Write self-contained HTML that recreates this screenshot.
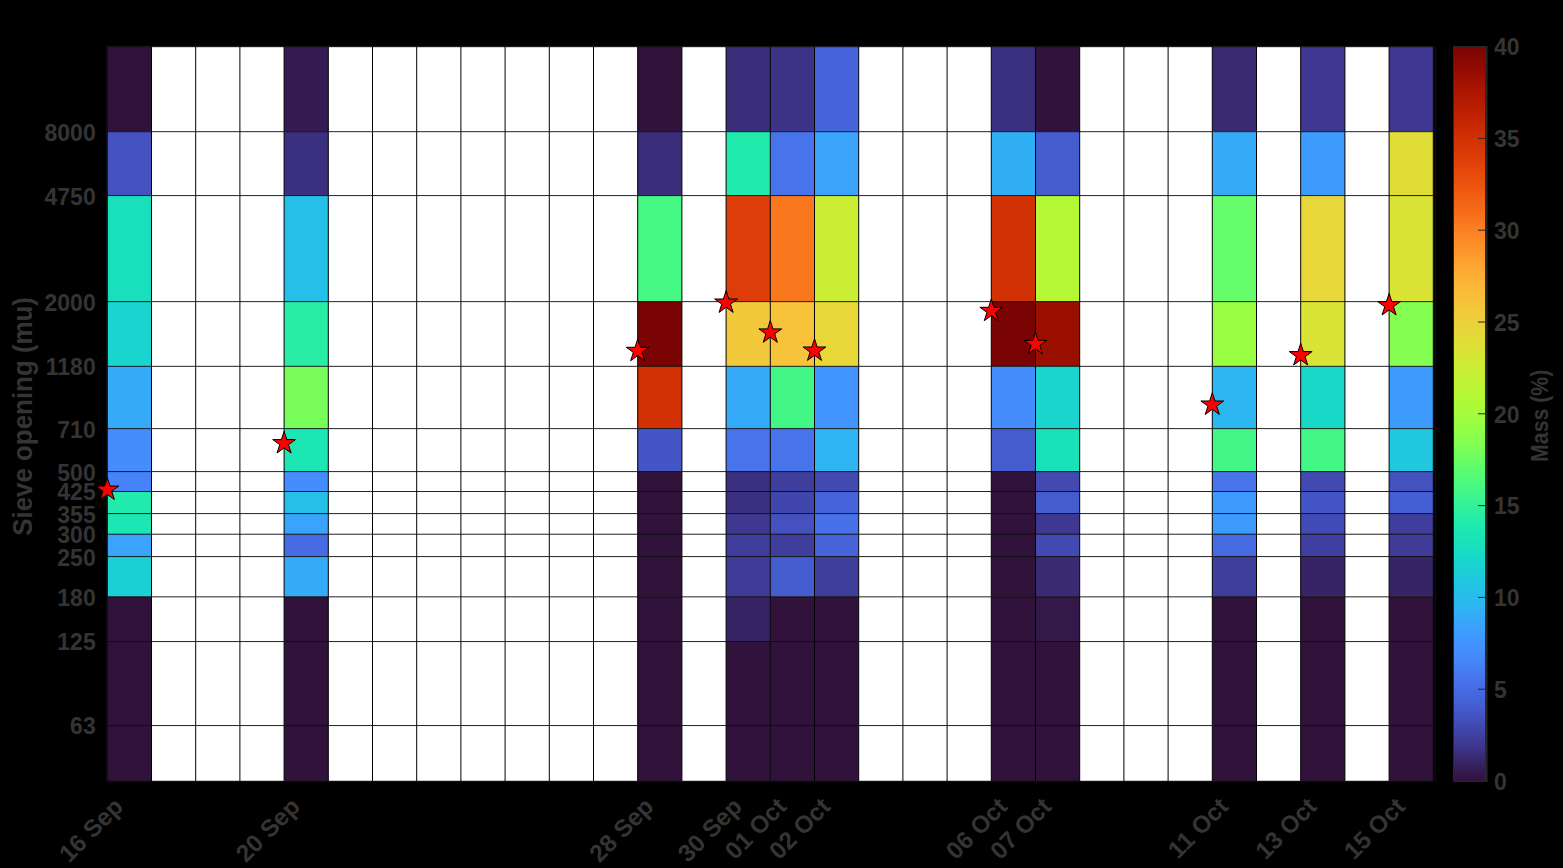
<!DOCTYPE html><html><head><meta charset="utf-8"><style>html,body{margin:0;padding:0;background:#000;width:1563px;height:868px;overflow:hidden}svg{display:block}text{font-family:"Liberation Sans", sans-serif;font-weight:bold}</style></head><body>
<svg width="1563" height="868" viewBox="0 0 1563 868">
<rect x="0" y="0" width="1563" height="868" fill="#000"/>
<line x1="106.5" y1="46" x2="106.5" y2="782" stroke="#101010" stroke-width="1"/>
<line x1="1435.5" y1="46" x2="1435.5" y2="782" stroke="#101010" stroke-width="1"/>
<rect x="107.30" y="46.62" width="1326.00" height="734.55" fill="#fff"/>
<rect x="107.30" y="46.62" width="44.20" height="84.98" fill="#30123b"/>
<rect x="107.30" y="131.60" width="44.20" height="63.91" fill="#4451bf"/>
<rect x="107.30" y="195.51" width="44.20" height="106.05" fill="#18e0bd"/>
<rect x="107.30" y="301.56" width="44.20" height="64.69" fill="#1ad4d0"/>
<rect x="107.30" y="366.25" width="44.20" height="62.28" fill="#35abf8"/>
<rect x="107.30" y="428.53" width="44.20" height="42.99" fill="#458cfd"/>
<rect x="107.30" y="471.52" width="44.20" height="19.92" fill="#4682f8"/>
<rect x="107.30" y="491.44" width="44.20" height="22.06" fill="#20eaac"/>
<rect x="107.30" y="513.51" width="44.20" height="20.64" fill="#1ce6b4"/>
<rect x="107.30" y="534.15" width="44.20" height="22.35" fill="#3aa3fc"/>
<rect x="107.30" y="556.50" width="44.20" height="40.27" fill="#1bd0d5"/>
<rect x="107.30" y="596.77" width="44.20" height="44.71" fill="#30123b"/>
<rect x="107.30" y="641.48" width="44.20" height="84.00" fill="#30123b"/>
<rect x="107.30" y="725.48" width="44.20" height="55.69" fill="#30123b"/>
<rect x="284.10" y="46.62" width="44.20" height="84.98" fill="#341b51"/>
<rect x="284.10" y="131.60" width="44.20" height="63.91" fill="#3b2f80"/>
<rect x="284.10" y="195.51" width="44.20" height="106.05" fill="#25c0e7"/>
<rect x="284.10" y="301.56" width="44.20" height="64.69" fill="#27eea4"/>
<rect x="284.10" y="366.25" width="44.20" height="62.28" fill="#79fe59"/>
<rect x="284.10" y="428.53" width="44.20" height="42.99" fill="#1ce6b4"/>
<rect x="284.10" y="471.52" width="44.20" height="19.92" fill="#458cfd"/>
<rect x="284.10" y="491.44" width="44.20" height="22.06" fill="#25c0e7"/>
<rect x="284.10" y="513.51" width="44.20" height="20.64" fill="#3aa3fc"/>
<rect x="284.10" y="534.15" width="44.20" height="22.35" fill="#466be3"/>
<rect x="284.10" y="556.50" width="44.20" height="40.27" fill="#35abf8"/>
<rect x="284.10" y="596.77" width="44.20" height="44.71" fill="#30123b"/>
<rect x="284.10" y="641.48" width="44.20" height="84.00" fill="#30123b"/>
<rect x="284.10" y="725.48" width="44.20" height="55.69" fill="#30123b"/>
<rect x="637.70" y="46.62" width="44.20" height="84.98" fill="#30123b"/>
<rect x="637.70" y="131.60" width="44.20" height="63.91" fill="#3a2d79"/>
<rect x="637.70" y="195.51" width="44.20" height="106.05" fill="#46f884"/>
<rect x="637.70" y="301.56" width="44.20" height="64.69" fill="#7a0403"/>
<rect x="637.70" y="366.25" width="44.20" height="62.28" fill="#d23105"/>
<rect x="637.70" y="428.53" width="44.20" height="42.99" fill="#4456c7"/>
<rect x="637.70" y="471.52" width="44.20" height="19.92" fill="#30123b"/>
<rect x="637.70" y="491.44" width="44.20" height="22.06" fill="#30123b"/>
<rect x="637.70" y="513.51" width="44.20" height="20.64" fill="#30123b"/>
<rect x="637.70" y="534.15" width="44.20" height="22.35" fill="#30123b"/>
<rect x="637.70" y="556.50" width="44.20" height="40.27" fill="#30123b"/>
<rect x="637.70" y="596.77" width="44.20" height="44.71" fill="#30123b"/>
<rect x="637.70" y="641.48" width="44.20" height="84.00" fill="#30123b"/>
<rect x="637.70" y="725.48" width="44.20" height="55.69" fill="#30123b"/>
<rect x="726.10" y="46.62" width="44.20" height="84.98" fill="#3a2d79"/>
<rect x="726.10" y="131.60" width="44.20" height="63.91" fill="#20eaac"/>
<rect x="726.10" y="195.51" width="44.20" height="106.05" fill="#dd3d08"/>
<rect x="726.10" y="301.56" width="44.20" height="64.69" fill="#f2c93a"/>
<rect x="726.10" y="366.25" width="44.20" height="62.28" fill="#35abf8"/>
<rect x="726.10" y="428.53" width="44.20" height="42.99" fill="#4773eb"/>
<rect x="726.10" y="471.52" width="44.20" height="19.92" fill="#3b2f80"/>
<rect x="726.10" y="491.44" width="44.20" height="22.06" fill="#3b2f80"/>
<rect x="726.10" y="513.51" width="44.20" height="20.64" fill="#3e3891"/>
<rect x="726.10" y="534.15" width="44.20" height="22.35" fill="#3f3e9c"/>
<rect x="726.10" y="556.50" width="44.20" height="40.27" fill="#3f3b97"/>
<rect x="726.10" y="596.77" width="44.20" height="44.71" fill="#372466"/>
<rect x="726.10" y="641.48" width="44.20" height="84.00" fill="#30123b"/>
<rect x="726.10" y="725.48" width="44.20" height="55.69" fill="#30123b"/>
<rect x="770.30" y="46.62" width="44.20" height="84.98" fill="#3c3286"/>
<rect x="770.30" y="131.60" width="44.20" height="63.91" fill="#4773eb"/>
<rect x="770.30" y="195.51" width="44.20" height="106.05" fill="#f9781e"/>
<rect x="770.30" y="301.56" width="44.20" height="64.69" fill="#f6c33a"/>
<rect x="770.30" y="366.25" width="44.20" height="62.28" fill="#43f787"/>
<rect x="770.30" y="428.53" width="44.20" height="42.99" fill="#4773eb"/>
<rect x="770.30" y="471.52" width="44.20" height="19.92" fill="#3f3e9c"/>
<rect x="770.30" y="491.44" width="44.20" height="22.06" fill="#4146ac"/>
<rect x="770.30" y="513.51" width="44.20" height="20.64" fill="#4451bf"/>
<rect x="770.30" y="534.15" width="44.20" height="22.35" fill="#3f3e9c"/>
<rect x="770.30" y="556.50" width="44.20" height="40.27" fill="#455ccf"/>
<rect x="770.30" y="596.77" width="44.20" height="44.71" fill="#30123b"/>
<rect x="770.30" y="641.48" width="44.20" height="84.00" fill="#30123b"/>
<rect x="770.30" y="725.48" width="44.20" height="55.69" fill="#30123b"/>
<rect x="814.50" y="46.62" width="44.20" height="84.98" fill="#4664da"/>
<rect x="814.50" y="131.60" width="44.20" height="63.91" fill="#3aa3fc"/>
<rect x="814.50" y="195.51" width="44.20" height="106.05" fill="#cbed34"/>
<rect x="814.50" y="301.56" width="44.20" height="64.69" fill="#e7d739"/>
<rect x="814.50" y="366.25" width="44.20" height="62.28" fill="#4294ff"/>
<rect x="814.50" y="428.53" width="44.20" height="42.99" fill="#2eb4f2"/>
<rect x="814.50" y="471.52" width="44.20" height="19.92" fill="#4249b1"/>
<rect x="814.50" y="491.44" width="44.20" height="22.06" fill="#4664da"/>
<rect x="814.50" y="513.51" width="44.20" height="20.64" fill="#4771e9"/>
<rect x="814.50" y="534.15" width="44.20" height="22.35" fill="#4664da"/>
<rect x="814.50" y="556.50" width="44.20" height="40.27" fill="#3f3e9c"/>
<rect x="814.50" y="596.77" width="44.20" height="44.71" fill="#30123b"/>
<rect x="814.50" y="641.48" width="44.20" height="84.00" fill="#30123b"/>
<rect x="814.50" y="725.48" width="44.20" height="55.69" fill="#30123b"/>
<rect x="991.30" y="46.62" width="44.20" height="84.98" fill="#3b2f80"/>
<rect x="991.30" y="131.60" width="44.20" height="63.91" fill="#31aff5"/>
<rect x="991.30" y="195.51" width="44.20" height="106.05" fill="#d23105"/>
<rect x="991.30" y="301.56" width="44.20" height="64.69" fill="#7a0403"/>
<rect x="991.30" y="366.25" width="44.20" height="62.28" fill="#458cfd"/>
<rect x="991.30" y="428.53" width="44.20" height="42.99" fill="#455ccf"/>
<rect x="991.30" y="471.52" width="44.20" height="19.92" fill="#30123b"/>
<rect x="991.30" y="491.44" width="44.20" height="22.06" fill="#30123b"/>
<rect x="991.30" y="513.51" width="44.20" height="20.64" fill="#30123b"/>
<rect x="991.30" y="534.15" width="44.20" height="22.35" fill="#30123b"/>
<rect x="991.30" y="556.50" width="44.20" height="40.27" fill="#30123b"/>
<rect x="991.30" y="596.77" width="44.20" height="44.71" fill="#30123b"/>
<rect x="991.30" y="641.48" width="44.20" height="84.00" fill="#30123b"/>
<rect x="991.30" y="725.48" width="44.20" height="55.69" fill="#30123b"/>
<rect x="1035.50" y="46.62" width="44.20" height="84.98" fill="#30123b"/>
<rect x="1035.50" y="131.60" width="44.20" height="63.91" fill="#455ccf"/>
<rect x="1035.50" y="195.51" width="44.20" height="106.05" fill="#b4f836"/>
<rect x="1035.50" y="301.56" width="44.20" height="64.69" fill="#9b0f01"/>
<rect x="1035.50" y="366.25" width="44.20" height="62.28" fill="#19d5cd"/>
<rect x="1035.50" y="428.53" width="44.20" height="42.99" fill="#19e2bb"/>
<rect x="1035.50" y="471.52" width="44.20" height="19.92" fill="#4249b1"/>
<rect x="1035.50" y="491.44" width="44.20" height="22.06" fill="#455ccf"/>
<rect x="1035.50" y="513.51" width="44.20" height="20.64" fill="#3e3891"/>
<rect x="1035.50" y="534.15" width="44.20" height="22.35" fill="#4249b1"/>
<rect x="1035.50" y="556.50" width="44.20" height="40.27" fill="#392a73"/>
<rect x="1035.50" y="596.77" width="44.20" height="44.71" fill="#33184a"/>
<rect x="1035.50" y="641.48" width="44.20" height="84.00" fill="#30123b"/>
<rect x="1035.50" y="725.48" width="44.20" height="55.69" fill="#30123b"/>
<rect x="1212.30" y="46.62" width="44.20" height="84.98" fill="#392a73"/>
<rect x="1212.30" y="131.60" width="44.20" height="63.91" fill="#35abf8"/>
<rect x="1212.30" y="195.51" width="44.20" height="106.05" fill="#65fd69"/>
<rect x="1212.30" y="301.56" width="44.20" height="64.69" fill="#99fe42"/>
<rect x="1212.30" y="366.25" width="44.20" height="62.28" fill="#2cb7f0"/>
<rect x="1212.30" y="428.53" width="44.20" height="42.99" fill="#43f787"/>
<rect x="1212.30" y="471.52" width="44.20" height="19.92" fill="#4773eb"/>
<rect x="1212.30" y="491.44" width="44.20" height="22.06" fill="#3e9bfe"/>
<rect x="1212.30" y="513.51" width="44.20" height="20.64" fill="#3e9bfe"/>
<rect x="1212.30" y="534.15" width="44.20" height="22.35" fill="#466be3"/>
<rect x="1212.30" y="556.50" width="44.20" height="40.27" fill="#3f3e9c"/>
<rect x="1212.30" y="596.77" width="44.20" height="44.71" fill="#30123b"/>
<rect x="1212.30" y="641.48" width="44.20" height="84.00" fill="#30123b"/>
<rect x="1212.30" y="725.48" width="44.20" height="55.69" fill="#30123b"/>
<rect x="1300.70" y="46.62" width="44.20" height="84.98" fill="#3e3891"/>
<rect x="1300.70" y="131.60" width="44.20" height="63.91" fill="#3e9bfe"/>
<rect x="1300.70" y="195.51" width="44.20" height="106.05" fill="#e7d739"/>
<rect x="1300.70" y="301.56" width="44.20" height="64.69" fill="#d9e436"/>
<rect x="1300.70" y="366.25" width="44.20" height="62.28" fill="#18d9c8"/>
<rect x="1300.70" y="428.53" width="44.20" height="42.99" fill="#43f787"/>
<rect x="1300.70" y="471.52" width="44.20" height="19.92" fill="#4249b1"/>
<rect x="1300.70" y="491.44" width="44.20" height="22.06" fill="#4456c7"/>
<rect x="1300.70" y="513.51" width="44.20" height="20.64" fill="#424bb5"/>
<rect x="1300.70" y="534.15" width="44.20" height="22.35" fill="#4040a2"/>
<rect x="1300.70" y="556.50" width="44.20" height="40.27" fill="#372466"/>
<rect x="1300.70" y="596.77" width="44.20" height="44.71" fill="#30123b"/>
<rect x="1300.70" y="641.48" width="44.20" height="84.00" fill="#30123b"/>
<rect x="1300.70" y="725.48" width="44.20" height="55.69" fill="#30123b"/>
<rect x="1389.10" y="46.62" width="44.20" height="84.98" fill="#3e3891"/>
<rect x="1389.10" y="131.60" width="44.20" height="63.91" fill="#e1dd37"/>
<rect x="1389.10" y="195.51" width="44.20" height="106.05" fill="#d9e436"/>
<rect x="1389.10" y="301.56" width="44.20" height="64.69" fill="#84ff51"/>
<rect x="1389.10" y="366.25" width="44.20" height="62.28" fill="#3e9bfe"/>
<rect x="1389.10" y="428.53" width="44.20" height="42.99" fill="#20c7df"/>
<rect x="1389.10" y="471.52" width="44.20" height="19.92" fill="#4451bf"/>
<rect x="1389.10" y="491.44" width="44.20" height="22.06" fill="#455ed3"/>
<rect x="1389.10" y="513.51" width="44.20" height="20.64" fill="#3f3e9c"/>
<rect x="1389.10" y="534.15" width="44.20" height="22.35" fill="#3f3b97"/>
<rect x="1389.10" y="556.50" width="44.20" height="40.27" fill="#372466"/>
<rect x="1389.10" y="596.77" width="44.20" height="44.71" fill="#30123b"/>
<rect x="1389.10" y="641.48" width="44.20" height="84.00" fill="#30123b"/>
<rect x="1389.10" y="725.48" width="44.20" height="55.69" fill="#30123b"/>
<path d="M107.30 46.62V781.17 M151.50 46.62V781.17 M195.70 46.62V781.17 M239.90 46.62V781.17 M284.10 46.62V781.17 M328.30 46.62V781.17 M372.50 46.62V781.17 M416.70 46.62V781.17 M460.90 46.62V781.17 M505.10 46.62V781.17 M549.30 46.62V781.17 M593.50 46.62V781.17 M637.70 46.62V781.17 M681.90 46.62V781.17 M726.10 46.62V781.17 M770.30 46.62V781.17 M814.50 46.62V781.17 M858.70 46.62V781.17 M902.90 46.62V781.17 M947.10 46.62V781.17 M991.30 46.62V781.17 M1035.50 46.62V781.17 M1079.70 46.62V781.17 M1123.90 46.62V781.17 M1168.10 46.62V781.17 M1212.30 46.62V781.17 M1256.50 46.62V781.17 M1300.70 46.62V781.17 M1344.90 46.62V781.17 M1389.10 46.62V781.17 M1433.30 46.62V781.17" stroke="#000" stroke-width="1" fill="none"/>
<path d="M107.30 46.70H1433.30 M107.30 131.68H1433.30 M107.30 195.59H1433.30 M107.30 301.64H1433.30 M107.30 366.33H1433.30 M107.30 428.61H1433.30 M107.30 471.60H1433.30 M107.30 491.52H1433.30 M107.30 513.59H1433.30 M107.30 534.23H1433.30 M107.30 556.58H1433.30 M107.30 596.85H1433.30 M107.30 641.56H1433.30 M107.30 725.56H1433.30 M107.30 781.25H1433.30" stroke="#000" stroke-width="0.87" fill="none"/>
<path d="M107.30,477.80 L109.99,486.09 L118.71,486.09 L111.66,491.22 L114.35,499.51 L107.30,494.38 L100.25,499.51 L102.94,491.22 L95.89,486.09 L104.61,486.09 Z" fill="#ff0000" stroke="#000" stroke-width="1" stroke-linejoin="miter"/>
<path d="M284.10,431.30 L286.79,439.59 L295.51,439.59 L288.46,444.72 L291.15,453.01 L284.10,447.88 L277.05,453.01 L279.74,444.72 L272.69,439.59 L281.41,439.59 Z" fill="#ff0000" stroke="#000" stroke-width="1" stroke-linejoin="miter"/>
<path d="M637.70,339.00 L640.39,347.29 L649.11,347.29 L642.06,352.42 L644.75,360.71 L637.70,355.58 L630.65,360.71 L633.34,352.42 L626.29,347.29 L635.01,347.29 Z" fill="#ff0000" stroke="#000" stroke-width="1" stroke-linejoin="miter"/>
<path d="M726.10,290.70 L728.79,298.99 L737.51,298.99 L730.46,304.12 L733.15,312.41 L726.10,307.28 L719.05,312.41 L721.74,304.12 L714.69,298.99 L723.41,298.99 Z" fill="#ff0000" stroke="#000" stroke-width="1" stroke-linejoin="miter"/>
<path d="M770.30,320.60 L772.99,328.89 L781.71,328.89 L774.66,334.02 L777.35,342.31 L770.30,337.18 L763.25,342.31 L765.94,334.02 L758.89,328.89 L767.61,328.89 Z" fill="#ff0000" stroke="#000" stroke-width="1" stroke-linejoin="miter"/>
<path d="M814.50,338.70 L817.19,346.99 L825.91,346.99 L818.86,352.12 L821.55,360.41 L814.50,355.28 L807.45,360.41 L810.14,352.12 L803.09,346.99 L811.81,346.99 Z" fill="#ff0000" stroke="#000" stroke-width="1" stroke-linejoin="miter"/>
<path d="M991.30,299.00 L993.99,307.29 L1002.71,307.29 L995.66,312.42 L998.35,320.71 L991.30,315.58 L984.25,320.71 L986.94,312.42 L979.89,307.29 L988.61,307.29 Z" fill="#ff0000" stroke="#000" stroke-width="1" stroke-linejoin="miter"/>
<path d="M1035.50,332.00 L1038.19,340.29 L1046.91,340.29 L1039.86,345.42 L1042.55,353.71 L1035.50,348.58 L1028.45,353.71 L1031.14,345.42 L1024.09,340.29 L1032.81,340.29 Z" fill="#ff0000" stroke="#000" stroke-width="1" stroke-linejoin="miter"/>
<path d="M1212.30,392.70 L1214.99,400.99 L1223.71,400.99 L1216.66,406.12 L1219.35,414.41 L1212.30,409.28 L1205.25,414.41 L1207.94,406.12 L1200.89,400.99 L1209.61,400.99 Z" fill="#ff0000" stroke="#000" stroke-width="1" stroke-linejoin="miter"/>
<path d="M1300.70,343.30 L1303.39,351.59 L1312.11,351.59 L1305.06,356.72 L1307.75,365.01 L1300.70,359.88 L1293.65,365.01 L1296.34,356.72 L1289.29,351.59 L1298.01,351.59 Z" fill="#ff0000" stroke="#000" stroke-width="1" stroke-linejoin="miter"/>
<path d="M1389.10,293.30 L1391.79,301.59 L1400.51,301.59 L1393.46,306.72 L1396.15,315.01 L1389.10,309.88 L1382.05,315.01 L1384.74,306.72 L1377.69,301.59 L1386.41,301.59 Z" fill="#ff0000" stroke="#000" stroke-width="1" stroke-linejoin="miter"/>
<text x="95.7" y="132.60" font-size="23" fill="#343434" text-anchor="end" dominant-baseline="central">8000</text>
<text x="95.7" y="196.51" font-size="23" fill="#343434" text-anchor="end" dominant-baseline="central">4750</text>
<text x="95.7" y="302.56" font-size="23" fill="#343434" text-anchor="end" dominant-baseline="central">2000</text>
<text x="95.7" y="367.25" font-size="23" fill="#343434" text-anchor="end" dominant-baseline="central">1180</text>
<text x="95.7" y="429.53" font-size="23" fill="#343434" text-anchor="end" dominant-baseline="central">710</text>
<text x="95.7" y="472.52" font-size="23" fill="#343434" text-anchor="end" dominant-baseline="central">500</text>
<text x="95.7" y="492.44" font-size="23" fill="#343434" text-anchor="end" dominant-baseline="central">425</text>
<text x="95.7" y="514.51" font-size="23" fill="#343434" text-anchor="end" dominant-baseline="central">355</text>
<text x="95.7" y="535.15" font-size="23" fill="#343434" text-anchor="end" dominant-baseline="central">300</text>
<text x="95.7" y="557.50" font-size="23" fill="#343434" text-anchor="end" dominant-baseline="central">250</text>
<text x="95.7" y="597.77" font-size="23" fill="#343434" text-anchor="end" dominant-baseline="central">180</text>
<text x="95.7" y="642.48" font-size="23" fill="#343434" text-anchor="end" dominant-baseline="central">125</text>
<text x="95.7" y="726.48" font-size="23" fill="#343434" text-anchor="end" dominant-baseline="central">63</text>
<text x="0" y="0" font-size="25.9" fill="#343434" text-anchor="middle" transform="translate(32.40,416.40) rotate(-90) scale(1,1.075)">Sieve opening (mu)</text>
<text x="0" y="0" font-size="24.30" fill="#343434" text-anchor="end" dominant-baseline="central" transform="translate(118.60,802.10) rotate(-45) scale(1,1.000)">16 Sep</text>
<text x="0" y="0" font-size="24.30" fill="#343434" text-anchor="end" dominant-baseline="central" transform="translate(295.40,802.10) rotate(-45) scale(1,1.000)">20 Sep</text>
<text x="0" y="0" font-size="24.30" fill="#343434" text-anchor="end" dominant-baseline="central" transform="translate(649.00,802.10) rotate(-45) scale(1,1.000)">28 Sep</text>
<text x="0" y="0" font-size="24.30" fill="#343434" text-anchor="end" dominant-baseline="central" transform="translate(737.40,802.10) rotate(-45) scale(1,1.000)">30 Sep</text>
<text x="0" y="0" font-size="24.30" fill="#343434" text-anchor="end" dominant-baseline="central" transform="translate(781.60,802.10) rotate(-45) scale(1,1.000)">01 Oct</text>
<text x="0" y="0" font-size="24.30" fill="#343434" text-anchor="end" dominant-baseline="central" transform="translate(825.80,802.10) rotate(-45) scale(1,1.000)">02 Oct</text>
<text x="0" y="0" font-size="24.30" fill="#343434" text-anchor="end" dominant-baseline="central" transform="translate(1002.60,802.10) rotate(-45) scale(1,1.000)">06 Oct</text>
<text x="0" y="0" font-size="24.30" fill="#343434" text-anchor="end" dominant-baseline="central" transform="translate(1046.80,802.10) rotate(-45) scale(1,1.000)">07 Oct</text>
<text x="0" y="0" font-size="24.30" fill="#343434" text-anchor="end" dominant-baseline="central" transform="translate(1223.60,802.10) rotate(-45) scale(1,1.000)">11 Oct</text>
<text x="0" y="0" font-size="24.30" fill="#343434" text-anchor="end" dominant-baseline="central" transform="translate(1312.00,802.10) rotate(-45) scale(1,1.000)">13 Oct</text>
<text x="0" y="0" font-size="24.30" fill="#343434" text-anchor="end" dominant-baseline="central" transform="translate(1400.40,802.10) rotate(-45) scale(1,1.000)">15 Oct</text>
<defs><linearGradient id="tb" x1="0" y1="1" x2="0" y2="0">
<stop offset="0.0000" stop-color="#30123b"/>
<stop offset="0.0250" stop-color="#372466"/>
<stop offset="0.0500" stop-color="#3e3891"/>
<stop offset="0.0750" stop-color="#4249b1"/>
<stop offset="0.1000" stop-color="#455ccf"/>
<stop offset="0.1250" stop-color="#466be3"/>
<stop offset="0.1500" stop-color="#477bf2"/>
<stop offset="0.1750" stop-color="#458cfd"/>
<stop offset="0.2000" stop-color="#3e9bfe"/>
<stop offset="0.2250" stop-color="#35abf8"/>
<stop offset="0.2500" stop-color="#28bceb"/>
<stop offset="0.2750" stop-color="#1fc9dd"/>
<stop offset="0.3000" stop-color="#19d5cd"/>
<stop offset="0.3250" stop-color="#19e2bb"/>
<stop offset="0.3500" stop-color="#20eaac"/>
<stop offset="0.3750" stop-color="#32f298"/>
<stop offset="0.4000" stop-color="#46f884"/>
<stop offset="0.4250" stop-color="#5dfc6f"/>
<stop offset="0.4500" stop-color="#79fe59"/>
<stop offset="0.4750" stop-color="#8fff49"/>
<stop offset="0.5000" stop-color="#a4fc3c"/>
<stop offset="0.5250" stop-color="#b4f836"/>
<stop offset="0.5500" stop-color="#c3f134"/>
<stop offset="0.5750" stop-color="#d4e735"/>
<stop offset="0.6000" stop-color="#e1dd37"/>
<stop offset="0.6250" stop-color="#ecd13a"/>
<stop offset="0.6500" stop-color="#f6c33a"/>
<stop offset="0.6750" stop-color="#fbb637"/>
<stop offset="0.7000" stop-color="#fea732"/>
<stop offset="0.7250" stop-color="#fe932a"/>
<stop offset="0.7500" stop-color="#fb8122"/>
<stop offset="0.7750" stop-color="#f66c19"/>
<stop offset="0.8000" stop-color="#f05b12"/>
<stop offset="0.8250" stop-color="#e84b0c"/>
<stop offset="0.8500" stop-color="#dd3d08"/>
<stop offset="0.8750" stop-color="#d23105"/>
<stop offset="0.9000" stop-color="#c32503"/>
<stop offset="0.9250" stop-color="#b41b01"/>
<stop offset="0.9500" stop-color="#a41301"/>
<stop offset="0.9750" stop-color="#8e0a01"/>
<stop offset="1.0000" stop-color="#7a0403"/>
</linearGradient></defs>
<rect x="1454.00" y="46.60" width="31.00" height="734.40" fill="url(#tb)"/>
<rect x="1453" y="46" width="1" height="736" fill="#282828"/>
<rect x="1453" y="46" width="34" height="1" fill="#282828"/>
<rect x="1453" y="781" width="34" height="1" fill="#282828"/>
<rect x="1485" y="46" width="2.5" height="736" fill="#282828"/>
<text x="1494" y="781.80" font-size="23" fill="#343434" dominant-baseline="central">0</text>
<line x1="1478" y1="689.20" x2="1485" y2="689.20" stroke="#282828" stroke-width="1"/>
<text x="1494" y="690.00" font-size="23" fill="#343434" dominant-baseline="central">5</text>
<line x1="1478" y1="597.40" x2="1485" y2="597.40" stroke="#282828" stroke-width="1"/>
<text x="1494" y="598.20" font-size="23" fill="#343434" dominant-baseline="central">10</text>
<line x1="1478" y1="505.60" x2="1485" y2="505.60" stroke="#282828" stroke-width="1"/>
<text x="1494" y="506.40" font-size="23" fill="#343434" dominant-baseline="central">15</text>
<line x1="1478" y1="413.80" x2="1485" y2="413.80" stroke="#282828" stroke-width="1"/>
<text x="1494" y="414.60" font-size="23" fill="#343434" dominant-baseline="central">20</text>
<line x1="1478" y1="322.00" x2="1485" y2="322.00" stroke="#282828" stroke-width="1"/>
<text x="1494" y="322.80" font-size="23" fill="#343434" dominant-baseline="central">25</text>
<line x1="1478" y1="230.20" x2="1485" y2="230.20" stroke="#282828" stroke-width="1"/>
<text x="1494" y="231.00" font-size="23" fill="#343434" dominant-baseline="central">30</text>
<line x1="1478" y1="138.40" x2="1485" y2="138.40" stroke="#282828" stroke-width="1"/>
<text x="1494" y="139.20" font-size="23" fill="#343434" dominant-baseline="central">35</text>
<text x="1494" y="47.40" font-size="23" fill="#343434" dominant-baseline="central">40</text>
<text x="0" y="0" font-size="21.3" style="stroke:none" fill="#343434" text-anchor="middle" transform="translate(1547.50,415.80) rotate(-90) scale(1,1.150)">Mass (%)</text>
</svg></body></html>
